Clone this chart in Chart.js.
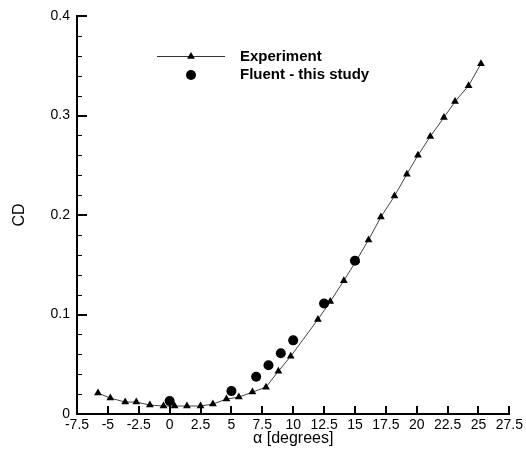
<!DOCTYPE html>
<html><head><meta charset="utf-8">
<script src="https://cdn.jsdelivr.net/npm/chart.js@4/dist/chart.umd.min.js"></script>
<style>html,body{margin:0;padding:0;background:#fff}#wrap{width:526px;height:450px}</style>
</head><body><div id="wrap"><canvas id="c" width="526" height="450"></canvas></div>
<script>
// ---- data ----
const expAlpha = [-5.8, -4.8, -3.6, -2.7, -1.6, -0.5, 0.4, 1.4, 2.5, 3.5, 4.6, 5.6, 6.7, 7.8, 8.8, 9.8, 12.0, 13.0, 14.1, 15.1, 16.1, 17.1, 18.2, 19.2, 20.1, 21.1, 22.2, 23.1, 24.2, 25.2];
const expCD    = [0.021, 0.016, 0.012, 0.012, 0.009, 0.008, 0.008, 0.008, 0.008, 0.010, 0.015, 0.017, 0.022, 0.027, 0.043, 0.058, 0.095, 0.113, 0.134, 0.154, 0.175, 0.198, 0.219, 0.241, 0.260, 0.279, 0.298, 0.314, 0.330, 0.352];
const fluentAlpha = [0, 5, 7, 8, 9, 10, 12.5, 15];
const fluentCD    = [0.013, 0.023, 0.0375, 0.049, 0.061, 0.074, 0.111, 0.154];
const xTicks = [-7.5, -5, -2.5, 0, 2.5, 5, 7.5, 10, 12.5, 15, 17.5, 20, 22.5, 25, 27.5];
const yTicks = [0, 0.1, 0.2, 0.3, 0.4];
const yMinorTicks = [0.02, 0.04, 0.06, 0.08, 0.12, 0.14, 0.16, 0.18, 0.22, 0.24, 0.26, 0.28, 0.32, 0.34, 0.36, 0.38];
const seriesNames = ['Experiment', 'Fluent - this study'];
const xTitle = 'α [degrees]';
const yTitle = 'CD';

const FONT = '"Liberation Sans", Arial, Helvetica, sans-serif';

const tickPlugin = {
  id: 'tecplotTicks',
  afterDraw(chart) {
    const ctx = chart.ctx;
    const xs = chart.scales.x, ys = chart.scales.y;
    const ca = chart.chartArea;
    ctx.save();
    ctx.strokeStyle = '#000';
    // y major ticks
    ctx.lineWidth = 2;
    yTicks.forEach(v => {
      const y = Math.round(ys.getPixelForValue(v));
      ctx.beginPath(); ctx.moveTo(ca.left, y); ctx.lineTo(ca.left + 10, y); ctx.stroke();
    });
    // y minor ticks
    ctx.lineWidth = 1;
    yMinorTicks.forEach(v => {
      const y = Math.round(ys.getPixelForValue(v)) + 0.5;
      ctx.beginPath(); ctx.moveTo(ca.left, y); ctx.lineTo(ca.left + 5, y); ctx.stroke();
    });
    // x major ticks
    ctx.lineWidth = 2;
    xTicks.forEach(v => {
      const x = Math.round(xs.getPixelForValue(v));
      ctx.beginPath(); ctx.moveTo(x, ca.bottom); ctx.lineTo(x, ca.bottom - 8); ctx.stroke();
    });
    // legend
    const lx = 191, ly1 = 56.5, ly2 = 75;
    ctx.strokeStyle = '#333';
    ctx.lineWidth = 1;
    ctx.beginPath(); ctx.moveTo(157, ly1); ctx.lineTo(225, ly1); ctx.stroke();
    ctx.fillStyle = '#000';
    const r = 4.5;
    ctx.beginPath();
    ctx.moveTo(lx, ly1 - r);
    ctx.lineTo(lx + r * Math.sin(2 * Math.PI / 3), ly1 - r * Math.cos(2 * Math.PI / 3));
    ctx.lineTo(lx + r * Math.sin(4 * Math.PI / 3), ly1 - r * Math.cos(4 * Math.PI / 3));
    ctx.closePath(); ctx.fill();
    ctx.beginPath(); ctx.arc(lx, ly2, 5, 0, 2 * Math.PI); ctx.fill();
    ctx.font = 'bold 15px ' + FONT;
    ctx.textBaseline = 'middle';
    ctx.textAlign = 'left';
    ctx.fillText(seriesNames[0], 240, ly1);
    ctx.fillText(seriesNames[1], 240, ly2);
    ctx.restore();
  }
};

new Chart(document.getElementById('c'), {
  type: 'scatter',
  data: {
    datasets: [
      {
        label: seriesNames[1],
        data: fluentAlpha.map((a, i) => ({x: a, y: fluentCD[i]})),
        showLine: false,
        pointStyle: 'circle',
        pointRadius: 5,
        pointBackgroundColor: '#000',
        pointBorderColor: '#000',
        pointBorderWidth: 0
      },
      {
        label: seriesNames[0],
        data: expAlpha.map((a, i) => ({x: a, y: expCD[i]})),
        showLine: true,
        borderColor: '#444',
        borderWidth: 1,
        pointStyle: 'triangle',
        pointRadius: 4.5,
        pointBackgroundColor: '#000',
        pointBorderColor: '#000',
        pointBorderWidth: 0,
        tension: 0
      }
    ]
  },
  options: {
    responsive: false,
    animation: false,
    devicePixelRatio: 1,
    layout: {padding: {left: 0, right: 16, top: 16, bottom: 0}},
    plugins: {legend: {display: false}, tooltip: {enabled: false}},
    scales: {
      x: {
        type: 'linear', min: -7.5, max: 27.5,
        afterBuildTicks: s => { s.ticks = xTicks.map(v => ({value: v})); },
        afterFit: s => { s.height = 36; },
        grid: {display: false, drawTicks: false},
        border: {display: true, color: '#000', width: 2},
        ticks: {padding: 3, color: '#000', font: {family: FONT, size: 14}, maxRotation: 0, autoSkip: false,
                callback: v => String(v)},
        title: {display: true, text: xTitle, color: '#000', font: {family: FONT, size: 16}, padding: {top: 0, bottom: 2}}
      },
      y: {
        type: 'linear', min: 0, max: 0.4,
        afterBuildTicks: s => { s.ticks = yTicks.map(v => ({value: v})); },
        afterFit: s => { s.width = 77; },
        grid: {display: false, drawTicks: false},
        border: {display: true, color: '#000', width: 2},
        ticks: {padding: 7, color: '#000', font: {family: FONT, size: 14}, autoSkip: false,
                callback: v => String(v)},
        title: {display: true, text: yTitle, color: '#000', font: {family: FONT, size: 16}, padding: {top: 10, bottom: 0}}
      }
    }
  },
  plugins: [tickPlugin]
});
</script>
</body></html>
